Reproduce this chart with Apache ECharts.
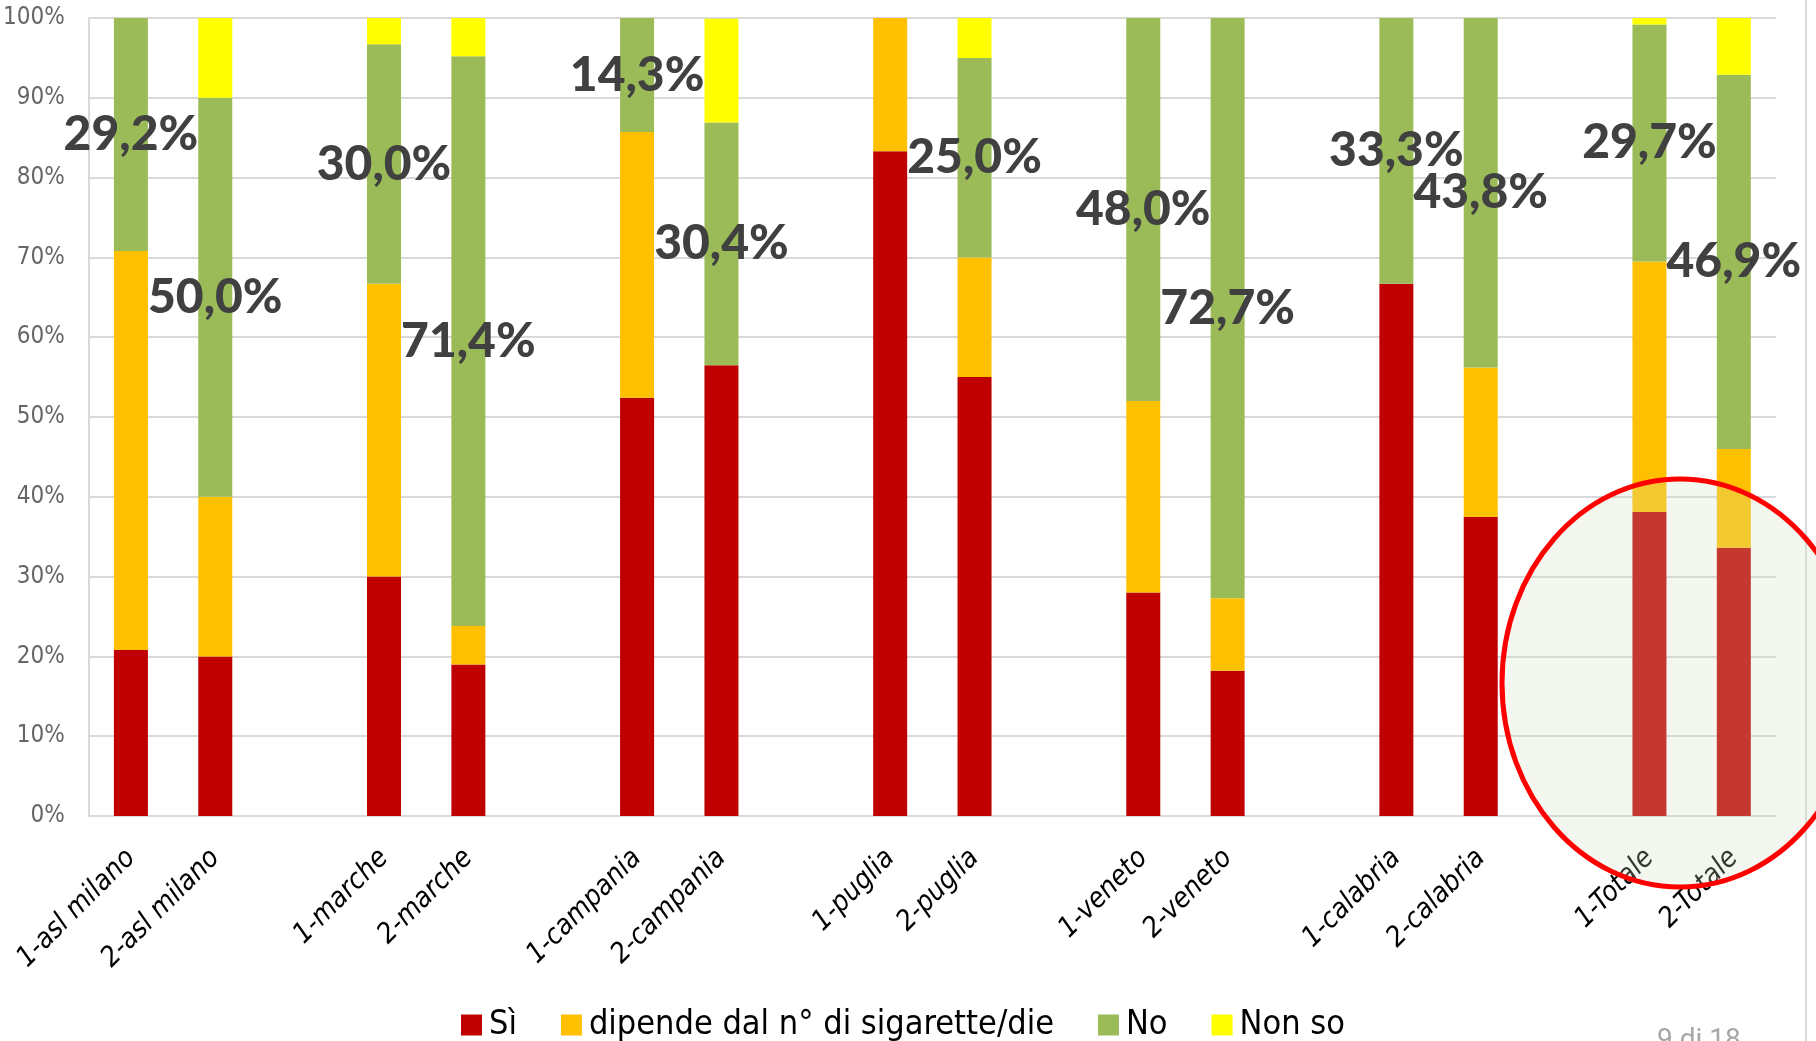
<!DOCTYPE html>
<html>
<head>
<meta charset="utf-8">
<script src="https://cdn.jsdelivr.net/npm/echarts@6/dist/echarts.min.js"></script>
<style>
  html, body { margin: 0; padding: 0; background: #fff; }
  #chart { width: 1816px; height: 1041px; }
</style>
</head>
<body>
<div id="chart"></div>
<script>
// categorie (le stringhe vuote fanno da spazio tra i gruppi)
const categories = ['1-asl milano', '2-asl milano', '', '1-marche', '2-marche', '', '1-campania', '2-campania', '',
    '1-puglia', '2-puglia', '', '1-veneto', '2-veneto', '', '1-calabria', '2-calabria', '', '1-Totale', '2-Totale'];

const si      = [20.8, 20.0, null, 30.0, 19.0, null, 52.4, 56.5, null, 83.3, 55.0, null, 28.0, 18.2, null, 66.7, 37.5, null, 38.1, 33.6];
const dipende = [50.0, 20.0, null, 36.7, 4.8, null, 33.3, 0, null, 16.7, 15.0, null, 24.0, 9.1, null, 0, 18.7, null, 31.4, 12.4];
const no      = [29.2, 50.0, null, 30.0, 71.4, null, 14.3, 30.4, null, 0, 25.0, null, 48.0, 72.7, null, 33.3, 43.8, null, 29.7, 46.9];
const nonSo   = [0, 10.0, null, 3.3, 4.8, null, 0, 13.0, null, 0, 5.0, null, 0, 0, null, 0, 0, null, 0.8, 7.1];

const yTicks = [0, 10, 20, 30, 40, 50, 60, 70, 80, 90, 100];

const FONT = "'DejaVu Sans Condensed', 'DejaVu Sans', sans-serif";
const FONT_LABEL = "Lato, 'DejaVu Sans Condensed', sans-serif";

function pct(v) {
    return v.toFixed(1).replace('.', ',') + '%';
}

const chart = echarts.init(document.getElementById('chart'));

chart.setOption({
    animation: false,
    backgroundColor: '#fff',
    grid: {
        left: 87,
        right: 40,
        top: 18,
        bottom: 225
    },
    legend: {
        bottom: -6,
        left: 456,
        icon: 'rect',
        itemWidth: 21,
        itemHeight: 21,
        itemGap: 44,
        textStyle: { fontFamily: FONT, fontSize: 34, color: '#000', padding: [0, 0, 0, 2] },
        data: ['Sì', 'dipende dal n° di sigarette/die', 'No', 'Non so']
    },
    xAxis: {
        type: 'category',
        data: categories,
        axisLine: { lineStyle: { color: '#D9D9D9', width: 2 } },
        axisTick: { show: false },
        axisLabel: {
            interval: 0,
            rotate: 45,
            margin: 38,
            fontFamily: FONT,
            fontStyle: 'italic',
            fontSize: 28,
            color: '#000'
        }
    },
    yAxis: {
        type: 'value',
        min: yTicks[0],
        max: yTicks[yTicks.length - 1],
        interval: 10,
        axisLine: { show: true, lineStyle: { color: '#D9D9D9', width: 2 } },
        axisTick: { show: false },
        splitLine: { lineStyle: { color: '#D9D9D9', width: 2 } },
        axisLabel: {
            margin: 24,
            fontFamily: FONT,
            fontSize: 24,
            color: '#666666',
            formatter: '{value}%'
        }
    },
    series: [
        {
            name: 'Sì',
            type: 'bar',
            stack: 'tot',
            barWidth: 34,
            itemStyle: { color: '#C00000' },
            data: si
        },
        {
            name: 'dipende dal n° di sigarette/die',
            type: 'bar',
            stack: 'tot',
            itemStyle: { color: '#FFC000' },
            data: dipende
        },
        {
            name: 'No',
            type: 'bar',
            stack: 'tot',
            itemStyle: { color: '#9BBB59' },
            label: {
                show: true,
                position: 'inside',
                fontFamily: FONT_LABEL,
                fontWeight: 900,
                fontSize: 48,
                color: '#404040',
                formatter: p => (p.value ? pct(p.value) : '')
            },
            data: no
        },
        {
            name: 'Non so',
            type: 'bar',
            stack: 'tot',
            itemStyle: { color: '#FFFF00' },
            data: nonSo
        }
    ],
    graphic: [
        {
            type: 'line',
            z: 100,
            shape: { x1: 1806, y1: 0, x2: 1806, y2: 1041 },
            style: { stroke: '#DADADA', lineWidth: 2 }
        },
        {
            type: 'ellipse',
            z: 100,
            shape: { cx: 1680, cy: 683, rx: 178, ry: 204 },
            style: { fill: 'rgba(208,224,190,0.25)', stroke: '#FF0000', lineWidth: 5 }
        },
        {
            type: 'text',
            z: 100,
            left: 1657,
            top: 1027,
            style: { text: '9 di 18', fill: '#A6A6A6', font: '28px Roboto' }
        }
    ]
});
</script>
</body>
</html>
